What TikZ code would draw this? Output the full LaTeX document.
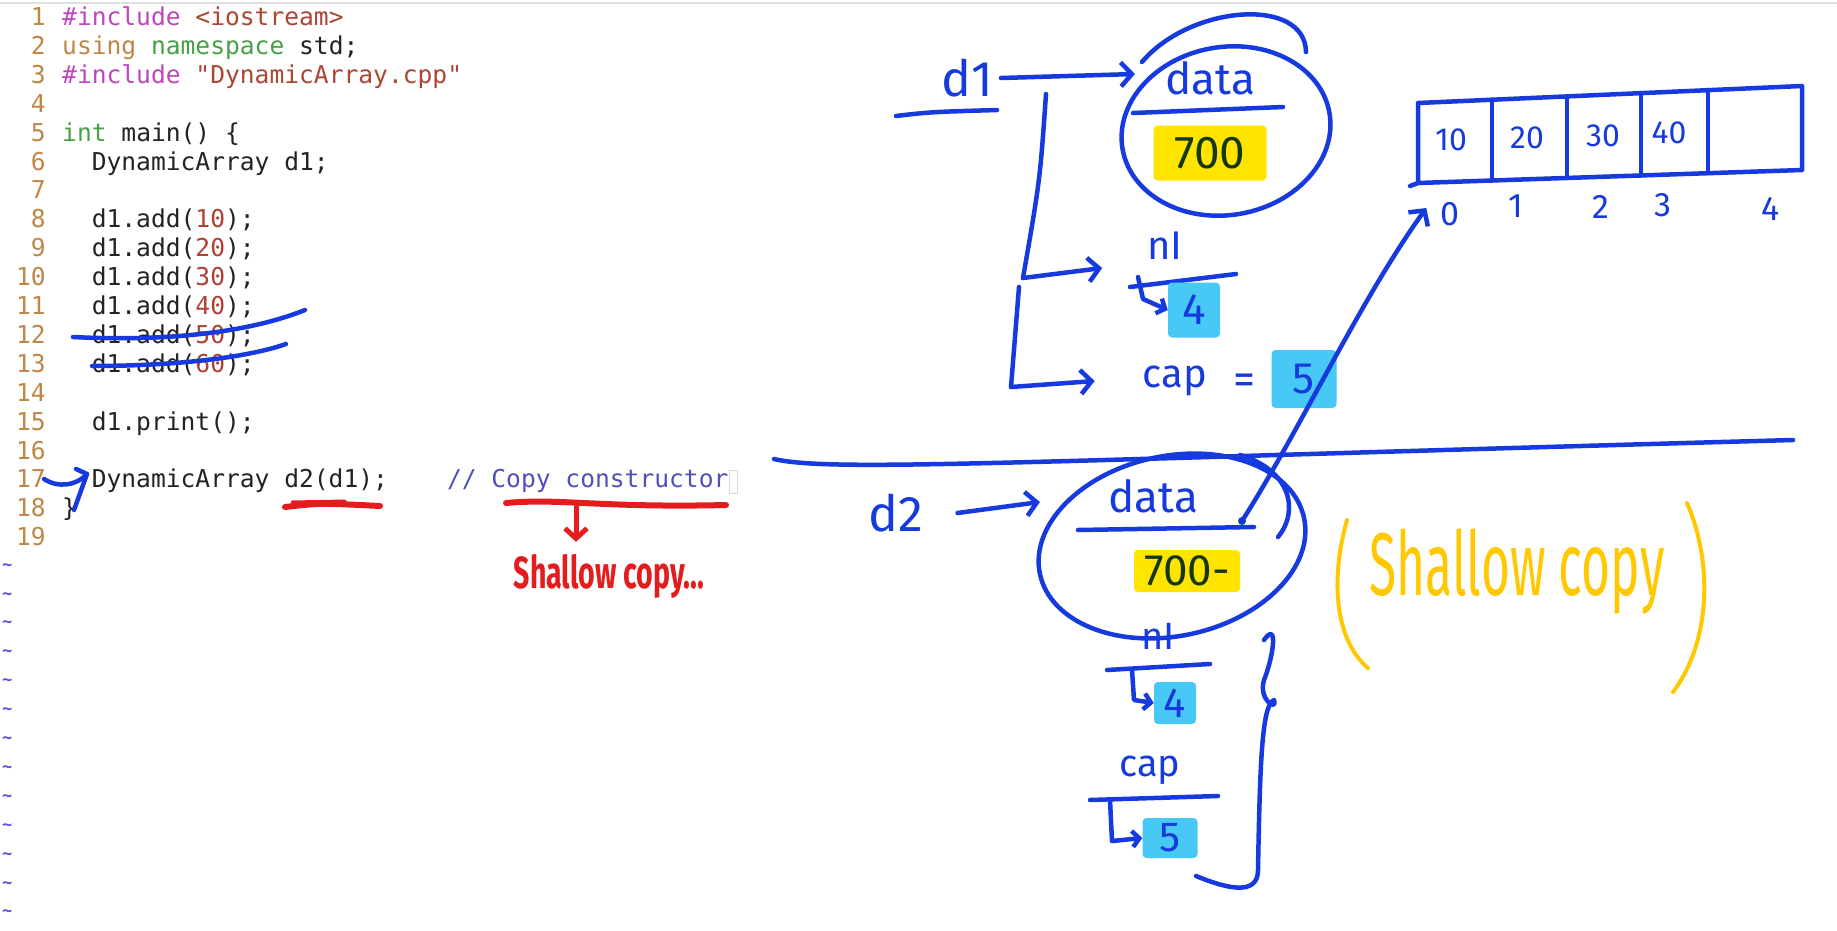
\documentclass[tikz,border=0pt]{standalone}
\usepackage{fontspec}
\usepackage{graphicx}
\setmonofont{DejaVu Sans Mono}
\newfontfamily\hand{Fira Sans}
\usetikzlibrary{arrows.meta, positioning, shapes.geometric}

\definecolor{penblue}{RGB}{22,58,222}
\definecolor{penred}{RGB}{228,28,30}
\definecolor{penyellow}{RGB}{255,200,0}
\definecolor{hlyellow}{RGB}{255,228,0}
\definecolor{hlcyan}{RGB}{72,200,245}
\definecolor{inkgreen}{RGB}{20,55,20}
\definecolor{numcol}{RGB}{190,135,70}
\definecolor{prepcol}{RGB}{190,70,190}
\definecolor{strcol}{RGB}{170,70,50}
\definecolor{keycol}{RGB}{70,160,70}
\definecolor{litcol}{RGB}{176,64,52}
\definecolor{comcol}{RGB}{80,80,185}
\definecolor{tildecol}{RGB}{90,80,210}
\definecolor{codeblack}{RGB}{35,35,35}

\newcommand\codefont{\ttfamily\fontsize{24.6}{29}\selectfont}
\newcommand\handsize[1]{\hand\fontsize{#1}{#1}\selectfont}

\begin{document}
\begin{tikzpicture}[x=1pt, y=-1pt,
  code/.style={anchor=base west, inner sep=0pt, font=\codefont, text=codeblack},
  lnum/.style={anchor=base east, inner sep=0pt, font=\codefont, text=numcol},
  tildemark/.style={anchor=base west, inner sep=0pt, text=tildecol,
    font=\ttfamily\bfseries\fontsize{17}{17}\selectfont},
  pen/.style={draw=penblue, line width=4.5pt, line cap=round, line join=round},
  penarrow/.style={pen, -{Straight Barb[length=11pt, width=24pt]}},
  redpen/.style={draw=penred, line width=6pt, line cap=round, line join=round},
  yellowpen/.style={draw=penyellow, line width=4pt, line cap=round, line join=round},
  hand/.style={inner sep=0pt, text=penblue},
  hlbox/.style={inner sep=0pt, rounded corners=4pt, text=inkgreen},
  memo/.style={pen, ellipse, inner sep=0pt}]

  % page and window edge
  \fill[white] (0,0) rectangle (1837,930);
  \useasboundingbox (0,0) rectangle (1837,930);
  \draw[black!12, line width=2pt] (0,3) -- (1837,3);

  % 1) source code
  \foreach \i in {1,...,19}
    \node[lnum] (n\i) at (46, {25.5+28.9*(\i-1)}) {\i};
  \foreach \i in {20,...,32}
    \node[tildemark] (t\i) at (2, {21+28.9*(\i-1)}) {\textasciitilde};

  \node[code] (c1)  at (62, 25.5)  {\color{prepcol}\#include \color{strcol}<iostream>};
  \node[code] (c2)  at (62, 54.4)  {\color{numcol}using \color{keycol}namespace \color{codeblack}std;};
  \node[code] (c3)  at (62, 83.3)  {\color{prepcol}\#include \color{strcol}"DynamicArray.cpp"};
  \node[code] (c5)  at (62, 141.1) {\color{keycol}int \color{codeblack}main() \{};
  \node[code] (c6)  at (91.6, 170)   {DynamicArray d1;};
  \node[code] (c8)  at (91.6, 227.8) {d1.add(\textcolor{litcol}{10});};
  \node[code] (c9)  at (91.6, 256.7) {d1.add(\textcolor{litcol}{20});};
  \node[code] (c10) at (91.6, 285.6) {d1.add(\textcolor{litcol}{30});};
  \node[code] (c11) at (91.6, 314.5) {d1.add(\textcolor{litcol}{40});};
  \node[code] (c12) at (91.6, 343.4) {d1.add(\textcolor{litcol}{50});};
  \node[code] (c13) at (91.6, 372.3) {d1.add(\textcolor{litcol}{60});};
  \node[code] (c15) at (91.6, 430.1) {d1.print();};
  \node[code] (c17) at (91.6, 487.9) {DynamicArray d2(d1);};
  \node[code, text=comcol] (com17) at (446.8, 487.9) {// Copy constructor};
  \node[code] (c18) at (62, 516.8) {\}};
  \draw[black!15, line width=1pt] (729,470) rectangle (737,493);

  % 2) pen marks on the code
  \draw[pen] (73,337) .. controls (150,341) and (240,336) .. (305,310);
  \draw[pen] (92,366) .. controls (160,366) and (240,360) .. (286,344);
  \draw[pen] (44,479) .. controls (58,488) and (76,486) .. (87,474);
  \draw[pen] (76,469) -- (87,474) -- (74,510);

  \draw[redpen] (285,507) .. controls (320,503) .. (380,506);
  \draw[redpen, line width=3pt] (292,502) -- (345,501);
  \draw[redpen] (506,503) .. controls (560,498) and (600,508) .. (726,505);
  \node[inner sep=0pt, text=penred, font=\handsize{31}\bfseries] (shal) at (609,576)
    {\scalebox{0.92}[1.45]{Shallow copy...}};
  \coordinate (redtop) at (576,507);
  \draw[redpen, line width=5pt, -{Straight Barb[length=10pt, width=22pt]}]
    (redtop) -- ([xshift=-33pt, yshift=12pt]shal.north);

  % 3) object d1
  \node[hand, font=\handsize{50}] (d1) at (967,78) {d1};
  \draw[pen] (896,116) .. controls (930,112) .. (997,110);
  \node[memo, minimum width=210, minimum height=168, rotate=10] (obj1) at (1226,131) {};
  \draw[pen] (1142,62) .. controls (1190,5) and (1305,-4) .. (1306,52);
  \node[hand, font=\handsize{44}] (data1) at (1210,78) {data};
  \draw[pen] (1133,113) -- (1283,107);
  \node[hlbox, fill=hlyellow, minimum width=113, minimum height=55,
    font=\handsize{46}] (v1) at (1210,153) {700};
  \draw[penarrow] ([xshift=8pt]d1.east) -- ([xshift=-30pt, yshift=4pt]data1.west);

  \node[hand, font=\handsize{40}] (nI1) at (1165,246) {nI};
  \draw[pen] (1130,287) -- (1236,274);
  \node[hlbox, fill=hlcyan, text=penblue, minimum width=52, minimum height=55,
    font=\handsize{44}] (ni1) at (1194,310) {4};
  \draw[pen, -{Straight Barb[length=7pt, width=16pt]}] (1138,277) -- (1143,299) -- (ni1.west);

  \node[hand, font=\handsize{40}] (cap1) at (1175,381) {cap};
  \node[hand, font=\handsize{44}] (eq1) at (1244,384) {=};
  \node[hlbox, fill=hlcyan, text=penblue, minimum width=65, minimum height=58,
    font=\handsize{44}] (cp1) at (1304,379) {5};

  \coordinate (br1) at (1046,94);
  \coordinate (br2) at (1023,278);
  \coordinate (br3) at (1011,387);
  \draw[pen] (br1) .. controls (1040,180) .. (br2);
  \draw[penarrow] (br2) -- ([xshift=-45pt, yshift=-22pt]nI1.west);
  \draw[pen] (1019,287) -- (br3);
  \draw[penarrow] (br3) -- ([xshift=-48pt]cap1.west);

  % 4) array on the heap
  \draw[pen] (1418,103) -- (1802,86) -- (1802,170) -- (1418,183) -- cycle;
  \draw[pen] (1418,183) -- (1410,186);
  \foreach \x/\t/\b in {1492/99.7/180.5, 1567/96.4/178, 1641/93/175.5, 1708/90/173.2}
    \draw[pen] (\x,\t) -- (\x,\b);
  \foreach \v/\x/\y in {10/1451/140, 20/1527/138, 30/1603/136, 40/1669/133}
    \node[hand, font=\handsize{32}] (a\v) at (\x,\y) {\v};
  \foreach \k/\x/\y in {0/1450/214, 1/1516/206, 2/1601/207, 3/1663/205, 4/1771/209}
    \node[hand, font=\handsize{34}] (i\k) at (\x,\y) {\k};

  % 5) dividing line
  \draw[pen] (774,459) .. controls (830,472) and (1000,462) .. (1793,440);

  % 6) object d2
  \node[hand, font=\handsize{50}] (d2) at (896,513) {d2};
  \node[memo, minimum width=270, minimum height=180, rotate=12] (obj2) at (1172,546) {};
  \draw[pen] (1240,455) .. controls (1290,470) and (1300,510) .. (1278,537);
  \node[hand, font=\handsize{44}] (data2) at (1153,496) {data};
  \draw[pen] (1078,530) -- (1254,527);
  \node[hlbox, fill=hlyellow, minimum width=106, minimum height=42,
    font=\handsize{44}] (v2) at (1187,571) {700-};
  \draw[penarrow] ([xshift=34pt]d2.east) -- ([xshift=-68pt, yshift=-6pt]data2.west);

  \node[hand, font=\handsize{38}] (nI2) at (1158,636) {nI};
  \draw[pen] (1107,670) -- (1210,664);
  \node[hlbox, fill=hlcyan, text=penblue, minimum width=42, minimum height=42,
    font=\handsize{42}] (ni2) at (1175,703) {4};
  \draw[pen, -{Straight Barb[length=7pt, width=16pt]}] (1132,670) -- (1134,700) -- (ni2.west);

  \node[hand, font=\handsize{38}] (cap2) at (1150,770) {cap};
  \draw[pen] (1090,800) -- (1218,796);
  \node[hlbox, fill=hlcyan, text=penblue, minimum width=55, minimum height=40,
    font=\handsize{42}] (cp2) at (1170,838) {5};
  \draw[pen, -{Straight Barb[length=7pt, width=16pt]}] (1110,800) -- (1112,841) -- (cp2.west);

  % brace round the copied fields
  \draw[pen] (1264,640) .. controls (1278,620) and (1274,655) .. (1264,680)
    .. controls (1258,700) and (1278,712) .. (1274,700)
    .. controls (1262,705) and (1260,760) .. (1258,870)
    .. controls (1258,895) and (1230,890) .. (1196,876);

  % shared pointer into the array
  \coordinate (p2) at (1242,521);
  \fill[penblue] (p2) circle (4pt);
  \draw[penarrow] (p2) .. controls (1300,430) and (1360,300) .. ([xshift=-14pt, yshift=6pt]i0.west);

  % 7) note in yellow
  \node[inner sep=0pt, text=penyellow, font=\handsize{54}] (sc) at (1517,572)
    {\scalebox{0.92}[1.65]{Shallow copy}};
  \draw[yellowpen] (1347,520) .. controls (1330,580) and (1335,640) .. (1368,668);
  \draw[yellowpen] (1687,503) .. controls (1712,560) and (1712,640) .. (1673,692);
\end{tikzpicture}
\end{document}
